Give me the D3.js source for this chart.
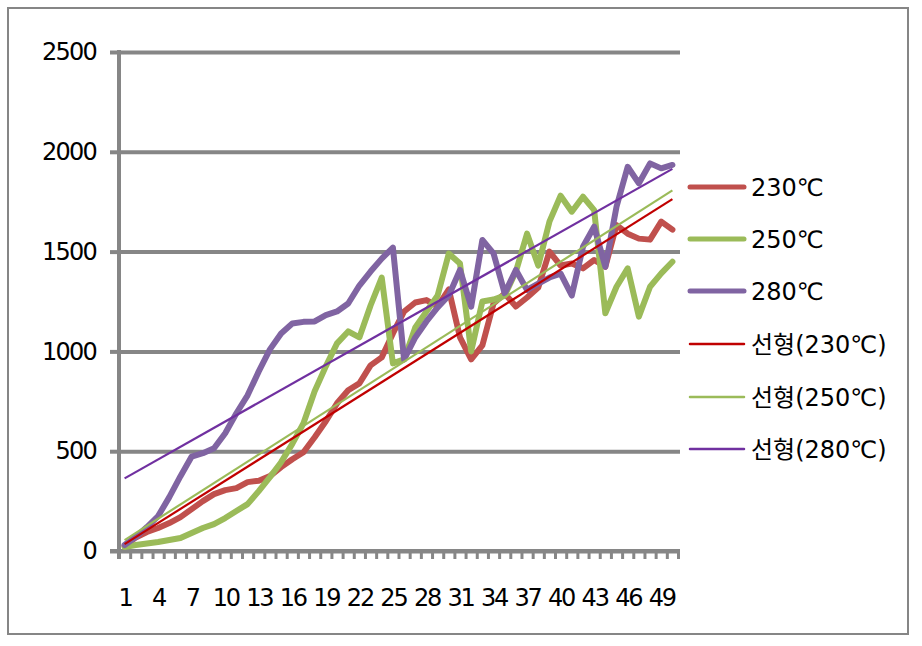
<!DOCTYPE html>
<html><head><meta charset="utf-8">
<script src="https://cdn.jsdelivr.net/npm/d3@7"></script>
<style>
body{margin:0;background:#fff;}
svg{display:block;}
text{font-family:"DejaVu Sans","Noto Sans CJK KR",sans-serif;fill:#000;}
</style></head>
<body>
<svg id="c" width="922" height="646"></svg>
<script>
const categories = d3.range(1, 51);
const xTickLabels = [1,4,7,10,13,16,19,22,25,28,31,34,37,40,43,46,49];
const yTickValues = [0,500,1000,1500,2000,2500];
const seriesNames = ["230℃","250℃","280℃"];
const trendNames = ["선형(230℃)","선형(250℃)","선형(280℃)"];
const s230 = [25,68,95,115,140,170,210,250,285,305,315,345,352,375,420,460,495,570,650,740,805,840,930,970,1090,1200,1245,1257,1225,1310,1070,960,1030,1240,1290,1225,1270,1320,1500,1430,1440,1416,1458,1424,1633,1590,1565,1560,1650,1610];
const s250 = [20,30,38,45,55,65,90,115,135,165,200,235,300,370,445,537,640,800,925,1040,1100,1070,1230,1370,940,960,1120,1200,1280,1490,1440,1000,1250,1260,1280,1400,1590,1430,1650,1780,1700,1775,1708,1191,1324,1416,1174,1324,1391,1449];
const s280 = [30,70,120,175,270,375,473,490,515,590,690,780,900,1010,1090,1140,1148,1150,1182,1200,1240,1330,1400,1465,1520,960,1070,1150,1220,1280,1408,1224,1558,1491,1291,1408,1308,1340,1370,1390,1280,1524,1625,1424,1725,1925,1842,1942,1917,1934];
const seriesColors = ["#C0504D","#9BBB59","#8064A2"];
const trendColors = ["#C00000","#9BBB59","#7030A0"];

const svg = d3.select("#c");
svg.append("rect").attr("x",8).attr("y",8).attr("width",900).attr("height",626)
  .attr("fill","#fff").attr("stroke","#868686").attr("stroke-width",2);

const x = d3.scaleLinear().domain([0.5, 50.5]).range([119, 678]);
const y = d3.scaleLinear().domain([0, 2500]).range([551, 52]);
const gridColor = "#868686";

const grid = svg.append("g").attr("transform","translate(119,0)")
  .call(d3.axisLeft(y).tickValues(yTickValues).tickSize(-561).tickFormat(""));
grid.select(".domain").remove();
grid.selectAll("line").attr("stroke",gridColor).attr("stroke-width",4);

const yAx = svg.append("g").attr("transform","translate(119,0)")
  .call(d3.axisLeft(y).tickValues(yTickValues).tickSize(9).tickPadding(14).tickFormat(d3.format("d")));
yAx.select(".domain").remove();
yAx.selectAll("line").attr("stroke",gridColor).attr("stroke-width",4);
yAx.selectAll("text").attr("font-size",24).style("letter-spacing","-1.8px");

const xAx = svg.append("g").attr("transform","translate(0,551)")
  .call(d3.axisBottom(x).tickValues(d3.range(0.5, 51, 1)).tickSize(8).tickFormat(""));
xAx.select(".domain").remove();
xAx.selectAll("line").attr("stroke",gridColor).attr("stroke-width",3);
const xLab = svg.append("g").attr("transform","translate(0,551)")
  .call(d3.axisBottom(x).tickValues(xTickLabels).tickSize(0).tickPadding(38));
xLab.select(".domain").remove();
xLab.selectAll("text").attr("font-size",24).style("letter-spacing","-2.2px");

svg.append("line").attr("x1",119).attr("x2",119).attr("y1",50).attr("y2",559)
  .attr("stroke",gridColor).attr("stroke-width",4);
svg.append("line").attr("x1",110).attr("x2",680).attr("y1",y(0)).attr("y2",y(0))
  .attr("stroke",gridColor).attr("stroke-width",4);

const allSeries = [s230, s250, s280];
const line = d3.line().x((d,i)=>x(categories[i])).y(d=>y(d));

allSeries.forEach((s,k)=>{
  svg.append("path").datum(s).attr("d",line).attr("fill","none")
    .attr("stroke",seriesColors[k]).attr("stroke-width",6)
    .attr("stroke-linejoin","round").attr("stroke-linecap","round");
});

allSeries.forEach((s,k)=>{
  const n = s.length;
  const mx = d3.mean(categories), my = d3.mean(s);
  let num=0, den=0;
  s.forEach((v,i)=>{num+=(categories[i]-mx)*(v-my); den+=(categories[i]-mx)**2;});
  const b = num/den, a = my - b*mx;
  const c0 = categories[0], c1 = categories[n-1];
  svg.append("line").attr("x1",x(c0)).attr("y1",y(a+b*c0))
    .attr("x2",x(c1)).attr("y2",y(a+b*c1))
    .attr("stroke",trendColors[k]).attr("stroke-width",2.2);
});

const legY = [187,239,291,344,397,449];
const legItems = seriesNames.map((n,k)=>({name:n,color:seriesColors[k],w:5}))
  .concat(trendNames.map((n,k)=>({name:n,color:trendColors[k],w:2.5})));
legItems.forEach((it,i)=>{
  const g = svg.append("g");
  g.append("line").attr("x1",690).attr("x2",744).attr("y1",legY[i]).attr("y2",legY[i])
    .attr("stroke",it.color).attr("stroke-width",it.w).attr("stroke-linecap","round");
  g.append("text").attr("x",751).attr("y",legY[i]).attr("dy","0.36em")
    .attr("font-size",24).style("letter-spacing","0px").text(it.name);
});
</script>
</body></html>
